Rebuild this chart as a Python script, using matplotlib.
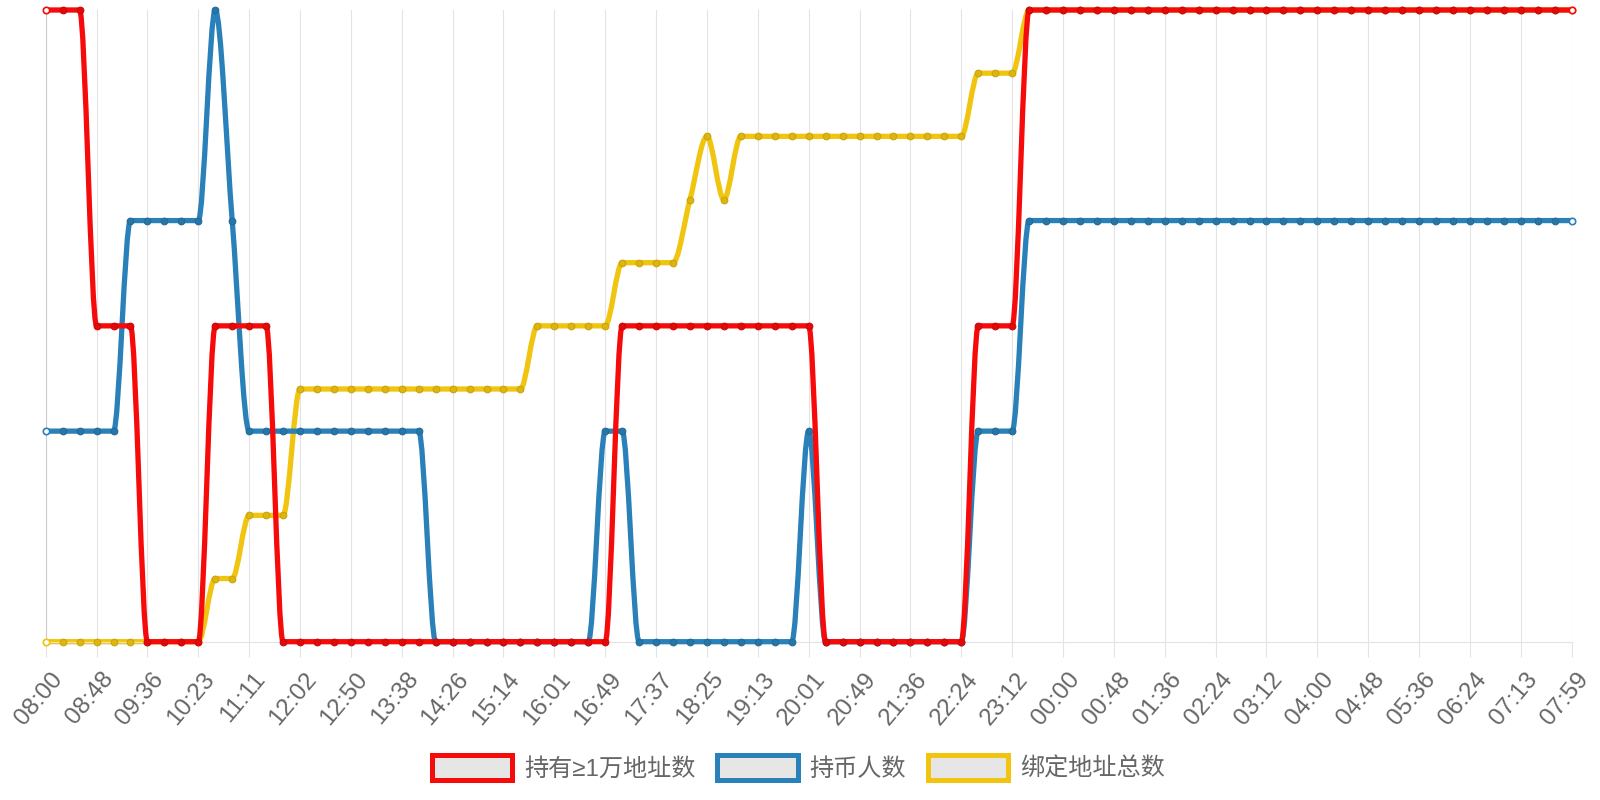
import numpy as np
import matplotlib
matplotlib.use("Agg")
import matplotlib.pyplot as plt
from matplotlib.path import Path
from matplotlib.patches import PathPatch, Patch
from matplotlib.transforms import ScaledTranslation

# time labels shown on the x axis (one every 3 samples)
tick_labels = ["08:00", "08:48", "09:36", "10:23", "11:11", "12:02", "12:50", "13:38",
               "14:26", "15:14", "16:01", "16:49", "17:37", "18:25", "19:13", "20:01",
               "20:49", "21:36", "22:24", "23:12", "00:00", "00:48", "01:36", "02:24",
               "03:12", "04:00", "04:48", "05:36", "06:24", "07:13", "07:59"]

# holders with >= 10k
big_holders = [2, 2, 2, 1, 1, 1, 0, 0, 0, 0, 1, 1, 1, 1, 0, 0, 0, 0, 0, 0,
               0, 0, 0, 0, 0, 0, 0, 0, 0, 0, 0, 0, 0, 0, 1, 1, 1, 1, 1, 1,
               1, 1, 1, 1, 1, 1, 0, 0, 0, 0, 0, 0, 0, 0, 0, 1, 1, 1, 2, 2,
               2, 2, 2, 2, 2, 2, 2, 2, 2, 2, 2, 2, 2, 2, 2, 2, 2, 2, 2, 2,
               2, 2, 2, 2, 2, 2, 2, 2, 2, 2, 2]

# coin holders
holders = [1, 1, 1, 1, 1, 2, 2, 2, 2, 2, 3, 2, 1, 1, 1, 1, 1, 1, 1, 1,
           1, 1, 1, 0, 0, 0, 0, 0, 0, 0, 0, 0, 0, 1, 1, 0, 0, 0, 0, 0,
           0, 0, 0, 0, 0, 1, 0, 0, 0, 0, 0, 0, 0, 0, 0, 1, 1, 1, 2, 2,
           2, 2, 2, 2, 2, 2, 2, 2, 2, 2, 2, 2, 2, 2, 2, 2, 2, 2, 2, 2,
           2, 2, 2, 2, 2, 2, 2, 2, 2, 2, 2]

# total bound addresses
bound_total = [0, 0, 0, 0, 0, 0, 0, 0, 0, 0, 1, 1, 2, 2, 2, 4, 4, 4, 4, 4,
               4, 4, 4, 4, 4, 4, 4, 4, 4, 5, 5, 5, 5, 5, 6, 6, 6, 6, 7, 8,
               7, 8, 8, 8, 8, 8, 8, 8, 8, 8, 8, 8, 8, 8, 8, 9, 9, 9, 10, 10,
               10, 10, 10, 10, 10, 10, 10, 10, 10, 10, 10, 10, 10, 10, 10, 10, 10, 10, 10, 10,
               10, 10, 10, 10, 10, 10, 10, 10, 10, 10, 10]

names = ["持有≥1万地址数", "持币人数", "绑定地址总数"]
colors = ["#f60a0a", "#2a80b9", "#f1c40f"]

legend_fonts = ["Liberation Sans", "Noto Sans CJK SC"]
grid_color = "#e3e3e3"


def monotone_path(xs, ys):
    # monotone cubic (Fritsch-Carlson) through the points, as bezier segments
    xs = np.asarray(xs, float)
    ys = np.asarray(ys, float)
    n = len(xs)
    delta = np.diff(ys) / np.diff(xs)
    m = np.zeros(n)
    m[0] = delta[0]
    m[-1] = delta[-1]
    for i in range(1, n - 1):
        if np.sign(delta[i - 1]) != np.sign(delta[i]):
            m[i] = 0
        else:
            m[i] = (delta[i - 1] + delta[i]) / 2
    for i in range(n - 1):
        if abs(delta[i]) < 1e-12:
            m[i] = m[i + 1] = 0
            continue
        a = m[i] / delta[i]
        b = m[i + 1] / delta[i]
        sq = a * a + b * b
        if sq <= 9:
            continue
        tau = 3 / np.sqrt(sq)
        m[i] = a * tau * delta[i]
        m[i + 1] = b * tau * delta[i]
    verts = [(xs[0], ys[0])]
    codes = [Path.MOVETO]
    for i in range(1, n):
        h = (xs[i] - xs[i - 1]) / 3
        verts += [(xs[i - 1] + h, ys[i - 1] + h * m[i - 1]),
                  (xs[i] - h, ys[i] - h * m[i]),
                  (xs[i], ys[i])]
        codes += [Path.CURVE4] * 3
    return Path(verts, codes)


def shade(c, f):
    r, g, b = matplotlib.colors.to_rgb(c)
    return (r * f, g * f, b * f)


fig = plt.figure(figsize=(16, 8), dpi=100)
ax = fig.add_axes([0.02856, 0.19788, 0.95375, 0.78962])
ax2 = ax.twinx()
ax3 = ax.twinx()

x = np.arange(len(big_holders))
# yellow at the bottom, red on top
layers = [(ax, bound_total, colors[2]), (ax2, holders, colors[1]), (ax3, big_holders, colors[0])]

for a, vals, col in layers:
    a.set_xlim(0, len(x) - 1)
    a.set_ylim(min(vals), max(vals))
    a.set_yticks([])
    for s in a.spines.values():
        s.set_visible(False)

for a, vals, col in layers:
    a.add_patch(PathPatch(monotone_path(x, vals), facecolor="none", edgecolor=col, lw=3.8,
                          capstyle="round", joinstyle="round", clip_on=False, zorder=2))
    a.plot(x[1:-1], vals[1:-1], "o", ms=4.8, mfc=shade(col, 0.92), mec=shade(col, 0.84),
           mew=0.8, clip_on=False, zorder=3)
    a.plot([x[0], x[-1]], [vals[0], vals[-1]], "o", ms=4.6, mfc="white", mec=col,
           mew=1.2, clip_on=False, zorder=3)

ax.set_xticks(np.arange(0, len(x), 3))
ax.set_xticklabels(tick_labels, rotation=50, ha="right", va="top",
                   rotation_mode="anchor", fontsize=17.5, color="#666666",
                   family="Liberation Sans")
ax.tick_params(axis="x", length=11, width=0.8, color=grid_color, pad=8)
# nudge the rotated labels a little to the right
shift = ScaledTranslation(4 / 100, 0, fig.dpi_scale_trans)
for lab in ax.get_xticklabels():
    lab.set_transform(lab.get_transform() + shift)
ax.grid(axis="x", color=grid_color, lw=0.8)
ax.set_axisbelow(True)
ax.spines["bottom"].set_visible(True)
ax.spines["bottom"].set_color(grid_color)
ax.spines["bottom"].set_linewidth(0.8)
ax.spines["left"].set_visible(True)
ax.spines["left"].set_color("#cccccc")
ax.spines["left"].set_linewidth(0.8)

handles = [Patch(facecolor="#e6e6e6", edgecolor=c, lw=3.6) for c in colors]
fig.legend(handles, names, loc="center", bbox_to_anchor=(0.499, 0.04), ncol=3,
           frameon=False, handlelength=3.32, handleheight=1.23, handletextpad=0.5,
           columnspacing=0.9, prop={"family": legend_fonts, "size": 17.4},
           labelcolor="#666666")

fig.savefig("out.png", dpi=100)
